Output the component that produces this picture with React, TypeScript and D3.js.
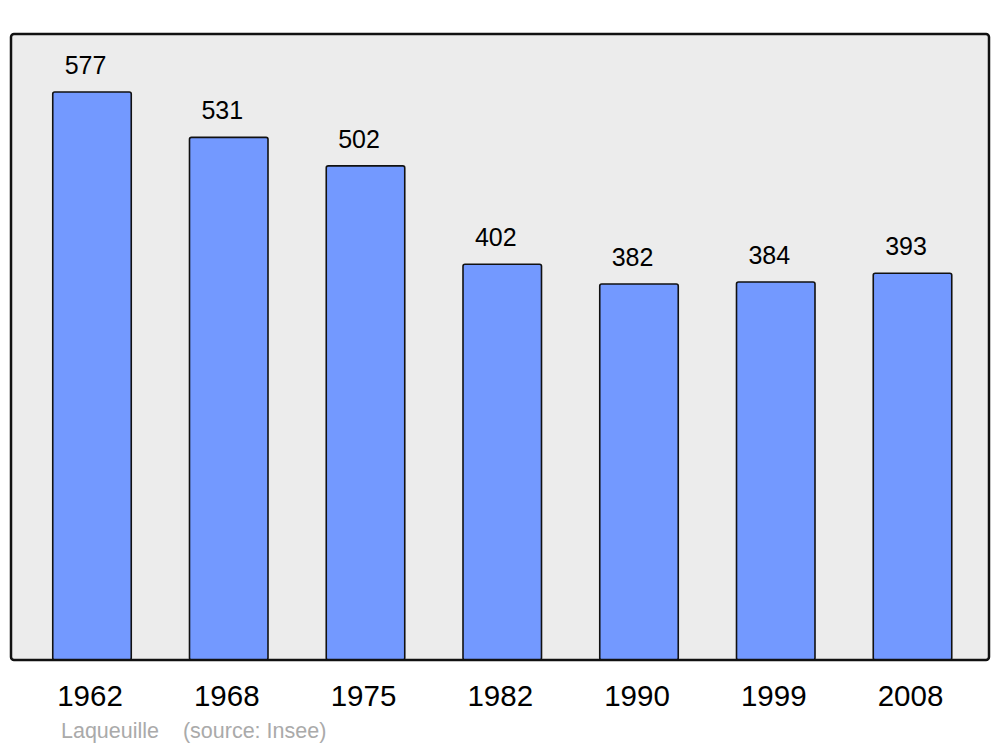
import React from "react";
import * as d3 from "d3";

const years = ["1962", "1968", "1975", "1982", "1990", "1999", "2008"];
const population = [577, 531, 502, 402, 382, 384, 393];
const footer = "Laqueuille    (source: Insee)";

export default function App() {
  const W = 1000, H = 747;
  const frame = { x0: 11, x1: 989, y0: 34, y1: 660 };
  const x = d3.scalePoint<string>().domain(years).range([92, 912.5]);
  const y = d3.scaleLinear().domain([0, 636]).range([frame.y1, frame.y0]);
  const bw = 78.5;
  return (
    <svg width={W} height={H} style={{ position: "absolute", left: 0, top: 0, fontFamily: "Liberation Sans, Arial, sans-serif" }}>
      <rect x={0} y={0} width={W} height={H} fill="#ffffff" />
      <rect x={frame.x0} y={frame.y0} width={frame.x1 - frame.x0} height={frame.y1 - frame.y0} rx={3} fill="#ececec" stroke="none" />
      {years.map((yr, i) => {
        const cx = x(yr)!;
        const top = y(population[i]);
        return (
          <g key={yr}>
            <rect x={cx - bw / 2} y={top} width={bw} height={frame.y1 - top} rx={2} fill="#7399ff" stroke="#111" strokeWidth={1.6} />
            <text x={cx - 6.5} y={top - 18} textAnchor="middle" fontSize={25} fill="#000">{population[i]}</text>
            <text x={cx - 2} y={706} textAnchor="middle" fontSize={29.5} fill="#000">{yr}</text>
          </g>
        );
      })}
      <rect x={frame.x0} y={frame.y0} width={frame.x1 - frame.x0} height={frame.y1 - frame.y0} rx={3} fill="none" stroke="#111" strokeWidth={2.5} />
      <text x={61} y={738} fontSize={21.5} fill="#aaaaaa" style={{ whiteSpace: "pre" }}>{footer}</text>
    </svg>
  );
}
